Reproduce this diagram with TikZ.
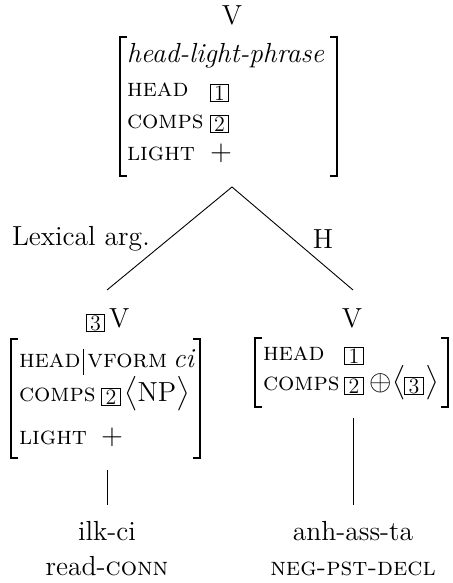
\documentclass[tikz,border=0pt]{standalone}
\usepackage{amsmath}
\newcommand\fsc[1]{{\fontsize{12.8}{15}\selectfont\scshape #1}}
\begin{document}
\begin{tikzpicture}[x=0.5pt,y=-0.5pt,
  every node/.style={font=\fontsize{13.8}{16}\selectfont, inner sep=0pt, outer sep=0pt},
  txt/.style={anchor=base west},
  ctr/.style={anchor=base},
  tagbox/.style={draw, line width=0.45pt, minimum width=9.3pt, minimum height=8.8pt, inner sep=0pt, font=\fontsize{11}{11}\selectfont},
  brak/.style={line width=0.9pt},
  edge/.style={line width=0.45pt}]
\useasboundingbox (0,0) rectangle (452,583);

% ---------- mother ----------
\node[ctr] (mcat) at (232,25) {V};
\draw[brak] (127,37) -- (120,37) -- (120,176) -- (127,176);
\draw[brak] (330,37) -- (337,37) -- (337,176) -- (330,176);
\node[txt] (mtype) at (127,63) {\itshape head-light-phrase};
\node[txt] (mhead) at (127,97) {\fsc{head}};
\node[tagbox] (mt1) at (219.5,93) {1};
\node[txt] (mcomps) at (127,128) {\fsc{comps}};
\node[tagbox] (mt2) at (219.5,124) {2};
\node[txt] (mlight) at (127,160) {\fsc{light}};
\node[txt] (mplus) at (210,160) {$+$};

% ---------- branches ----------
\coordinate (apex) at (232,187);
\coordinate (lend) at (107,290);
\coordinate (rend) at (353,290);
\draw[edge] (lend) -- (apex) -- (rend);
\node[txt] (lablex) at (12,245) {Lexical arg.};
\node[ctr] (labh) at (323,248) {H};

% ---------- left daughter ----------
\node[tagbox] (lt3) at (95.5,323) {3};
\node[txt] (lcat) at (109,327) {V};
\draw[brak] (18,339) -- (11,339) -- (11,458) -- (18,458);
\draw[brak] (193,339) -- (200,339) -- (200,458) -- (193,458);
\node[txt] (lhead) at (19,367) {\fsc{head}};
\coordinate (bartop) at ([xshift=1.4pt,yshift=9pt]lhead.base east);
\coordinate (barbot) at ([xshift=1.4pt,yshift=-4pt]lhead.base east);
\draw[line width=0.6pt] (bartop) -- (barbot);
\node[txt] (lvform) at ([xshift=3.4pt]lhead.base east) {\fsc{vform}};
\node[txt] (lci) at ([xshift=3pt]lvform.base east) {\itshape ci};
\node[txt] (lcomps) at (19,401) {\fsc{comps}};
\node[tagbox] (lt2) at (111,397) {2};
\node[txt] (lnp) at (124,401) {$\big\langle\text{NP}\big\rangle$};
\node[txt] (llight) at (19,444) {\fsc{light}};
\node[txt] (lplus) at (101,444) {$+$};

% ---------- right daughter ----------
\node[ctr] (rcat) at (352,327) {V};
\draw[brak] (262,338) -- (255,338) -- (255,407) -- (262,407);
\draw[brak] (441,338) -- (448,338) -- (448,407) -- (441,407);
\node[txt] (rhead) at (263,360) {\fsc{head}};
\node[tagbox] (rt1) at (354,356) {1};
\node[txt] (rcomps) at (263,390) {\fsc{comps}};
\node[tagbox] (rt2) at (354,386) {2};
\node[txt] (roplus) at (369,390) {$\oplus$};
\node[txt] (rlangle) at (392,390) {$\big\langle$};
\node[tagbox] (rt3) at (414,386) {3};
\node[txt] (rrangle) at (425,390) {$\big\rangle$};

% ---------- leaves ----------
\coordinate (lstemtop) at (107,470);
\coordinate (lstembot) at (107,505);
\coordinate (rstemtop) at (353,418);
\coordinate (rstembot) at (353,505);
\draw[edge] (lstemtop) -- (lstembot);
\draw[edge] (rstemtop) -- (rstembot);
\node[ctr] (lword) at (107,540) {ilk-ci};
\node[ctr] (lgloss) at (107,575) {read-\fsc{conn}};
\node[ctr] (rword) at (353,540) {anh-ass-ta};
\node[ctr] (rgloss) at (353,575) {\fsc{neg-pst-decl}};
\end{tikzpicture}
\end{document}
